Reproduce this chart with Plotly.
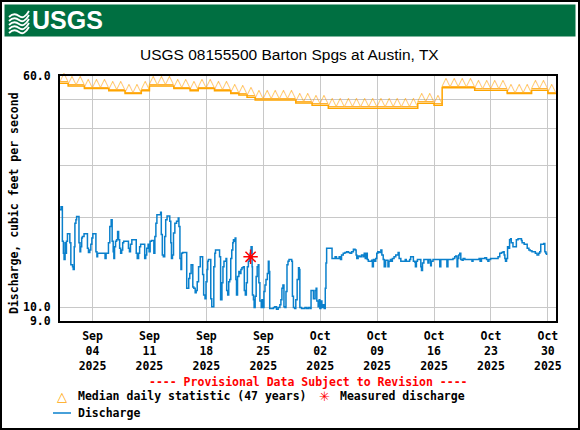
import math
import plotly.graph_objects as go
import pandas as pd

# ---- data ----
start = pd.Timestamp("2025-08-31")
end = pd.Timestamp("2025-10-31")

# median daily statistic (47 years), one value per day from Aug 31 to Oct 30
median_cfs = [56.7, 55.5, 55.5, 54.5, 54.5, 54.5, 53.5, 53.5, 52.4, 52.4,
              53.5, 55.5, 55.5, 55.5, 54.5, 54.5, 53.5, 54.5, 54.5, 53.5,
              53.5, 52.4, 51.8, 50.9, 49.8, 49.8, 49.8, 49.8, 49.8, 48.7,
              48.7, 47.8, 47.8, 46.7, 46.7, 46.7, 46.7, 46.7, 46.7, 46.7,
              46.7, 46.7, 46.7, 46.7, 48.6, 48.6, 47.8, 54.8, 54.8, 54.8,
              54.8, 53.7, 53.7, 53.7, 53.7, 52.4, 52.4, 52.4, 53.7, 53.7,
              52.4]

# discharge, hours after Aug 31 00:00 and cfs
q_hours = [0, 3, 7, 10, 12, 15, 17, 19, 22, 29, 32, 37, 39, 42, 44, 47, 49, 56, 59, 61,
           64, 66, 71, 81, 84, 88, 91, 94, 97, 106, 109, 111, 133, 136, 143, 147, 151, 154,
           157, 159, 161, 164, 167, 170, 173, 176, 179, 182, 185, 188, 202, 205, 208, 212,
           225, 228, 232, 235, 238, 250, 253, 256, 260, 263, 266, 270, 277, 280, 283, 286,
           297, 299, 302, 305, 309, 312, 316, 324, 327, 329, 332, 335, 339, 344, 349, 351,
           354, 357, 359, 362, 374, 380, 383, 387, 392, 395, 399, 402, 405, 409, 414, 421,
           424, 428, 431, 434, 436, 438, 445, 448, 454, 457, 459, 471, 474, 478, 481, 484,
           490, 492, 495, 498, 501, 504, 507, 510, 512, 514, 517, 519, 521, 524, 528, 531,
           534, 537, 541, 544, 547, 550, 553, 556, 559, 561, 564, 567, 568, 571, 573, 576,
           579, 582, 585, 587, 590, 594, 596, 598, 602, 605, 608, 612, 615, 617, 619, 630,
           634, 639, 644, 649, 652, 655, 658, 661, 664, 667, 670, 673, 676, 684, 686, 689,
           693, 696, 700, 704, 706, 708, 713, 723, 728, 733, 738, 741, 748, 753, 756, 758,
           762, 765, 767, 770, 773, 777, 780, 783, 785, 787, 803, 812, 816, 824, 828, 831,
           836, 841, 846, 851, 856, 861, 866, 871, 874, 876, 880, 885, 890, 895, 898, 901,
           905, 907, 910, 920, 922, 925, 928, 932, 935, 938, 942, 947, 950, 954, 957,
           961, 968, 971, 975, 978, 981, 986, 991, 998, 1001, 1006, 1019, 1022, 1032, 1035,
           1043, 1047, 1049, 1052, 1055, 1065, 1067, 1070, 1074, 1086, 1089, 1094, 1096,
           1101, 1121, 1124, 1142, 1145, 1160, 1165, 1168, 1172, 1174, 1177, 1180, 1183,
           1187, 1190, 1195, 1216, 1219, 1237, 1240, 1244, 1254, 1259, 1263, 1266, 1271,
           1288, 1293, 1298, 1303, 1308, 1311, 1313, 1315, 1318, 1321, 1323, 1327, 1330,
           1332, 1337, 1347, 1352, 1362, 1364, 1370, 1379, 1384, 1388, 1393, 1403, 1408,
           1413, 1416, 1419, 1428, 1431, 1434, 1436]
q_cfs = [21.3, 21.8, 16.7, 15.2, 14.5, 16.5, 15.2, 16.7, 17.7, 16.5, 13.9, 13.7, 13.4, 16.0, 19.2, 19.7, 20.2, 16.5, 15.4, 16.0,
         17.1, 17.3, 17.7, 15.8, 15.3, 15.6, 16.3, 17.1, 17.7, 15.4, 14.8, 15.2, 14.6, 15.2, 16.5, 18.7, 19.7, 16.7,
         15.4, 14.6, 16.0, 16.7, 16.9, 18.0, 16.9, 15.8, 15.2, 15.6, 16.5, 16.7, 15.8, 15.4, 16.3, 16.9,
         15.2, 14.6, 15.2, 16.0, 16.3, 14.6, 15.0, 15.8, 16.3, 15.4, 16.7, 16.8, 15.2, 17.3, 19.2, 20.5,
         20.9, 17.6, 15.0, 14.8, 17.3, 19.7, 20.3, 19.5, 16.5, 14.6, 15.0, 17.8, 19.2, 19.5, 20.0, 18.7,
         14.6, 13.4, 15.2, 15.3, 11.6, 12.5, 13.0, 13.9, 11.7, 11.6, 11.2, 11.4, 12.2, 13.7, 14.8, 12.9,
         11.0, 10.7, 12.2, 13.4, 14.3, 14.5, 10.7, 10.05, 13.7, 15.2, 15.6, 14.8, 10.6, 12.1, 13.7, 14.3,
         14.6, 11.4, 11.0, 12.2, 12.4, 14.6, 15.6, 16.5, 16.9, 16.7, 17.1, 12.4, 11.0, 12.7, 13.2, 13.0,
         13.4, 13.6, 13.7, 11.4, 11.0, 12.1, 13.7, 14.3, 14.8, 15.2, 16.0, 13.7, 11.0, 10.6, 10.0, 10.9,
         12.7, 13.7, 13.9, 12.1, 10.5, 10.0, 10.6, 10.0, 11.3, 11.9, 12.4, 13.0, 14.3, 13.2, 9.92, 10.0,
         10.05, 9.85, 10.0, 10.2, 10.6, 11.6, 11.9, 10.05, 10.0, 11.3, 13.9, 14.3, 14.5, 14.3, 10.9, 10.0,
         9.92, 10.6, 12.4, 13.6, 13.4, 10.0, 9.92, 10.0, 9.92, 10.0, 9.92, 11.4, 10.7, 11.4, 11.6, 10.5,
         10.05, 10.6, 9.92, 10.5, 10.0, 10.2, 9.92, 11.6, 14.1, 15.8, 14.6, 14.8, 14.6, 14.8, 14.5, 15.0,
         15.2, 15.3, 15.4, 15.3, 15.2, 15.4, 15.7, 15.6, 15.0, 14.6, 14.9, 14.8, 15.0, 14.8, 15.2, 14.6,
         15.2, 14.5, 14.3, 14.4, 13.7, 14.5, 14.3, 14.6, 15.2, 15.4, 15.3, 15.6, 15.0, 14.5, 13.7,
         14.4, 13.7, 14.3, 14.5, 14.3, 14.6, 14.8, 15.0, 15.3, 14.6, 14.3, 14.5, 14.3, 14.5, 14.8,
         14.3, 14.2, 13.7, 14.3, 14.5, 13.7, 13.3, 14.1, 14.5, 14.1, 14.5, 13.8, 14.3,
         14.5, 13.7, 14.5, 13.7, 14.5, 14.6, 14.8, 14.9, 13.7, 14.6, 15.0, 15.2, 14.5,
         14.4, 14.6, 14.5, 14.3, 14.5, 14.6, 14.3, 14.6, 14.7, 14.5, 14.3, 14.5, 14.6,
         14.6, 14.8, 15.2, 15.3, 15.4, 15.0, 14.6, 14.3, 14.6, 16.0, 15.8, 16.9, 17.0,
         16.5, 16.0, 16.9, 17.0, 16.8, 16.5, 16.3, 15.8, 15.6, 15.5, 15.4, 15.2, 15.0,
         15.2, 15.4, 16.3, 16.4, 15.4, 15.2, 15.0]

meas_time = ["2025-09-23 10:30"]
meas_cfs = [14.8]

tick_dates = pd.date_range("2025-09-04", "2025-10-30", freq="7D")
tick_text = [d.strftime("%b<br>%d<br>%Y") for d in tick_dates]
y_tickvals = [9, 10, 60]
y_ticktext = ["9.0", "10.0", "60.0"]
y_minor = [20, 30, 40, 50]

# ---- layout helpers (pixel -> paper) ----
W, H = 580, 430
L, R, T, B = 60, 24, 76, 109
PW, PH = W - L - R, H - T - B


def fx(px):
    return (px - L) / PW


def fy(py):
    return (H - B - py) / PH


MONO = "DejaVu Sans Mono"
SANS = "Liberation Sans, Arial, sans-serif"
ORANGE = "#FFA500"
BLUE = "#0a80cc"
GRID = "#c8c8c8"

days = pd.date_range(start, periods=len(median_cfs), freq="D")
noon = days + pd.Timedelta(hours=12)

fig = go.Figure()

# median step line and triangles
fig.add_trace(go.Scatter(
    x=list(days) + [end], y=median_cfs + [median_cfs[-1]],
    mode="lines", line=dict(color=ORANGE, width=1.5, shape="hv"),
    hoverinfo="skip", showlegend=False))
fig.add_trace(go.Scatter(
    x=noon, y=median_cfs, mode="text", text=["△"] * len(median_cfs),
    textposition="top center", cliponaxis=False,
    textfont=dict(family="DejaVu Sans", size=11.5, color=ORANGE),
    showlegend=False))

# discharge
fig.add_trace(go.Scatter(
    x=start + pd.to_timedelta(q_hours, unit="h"), y=q_cfs, mode="lines",
    line=dict(color=BLUE, width=1.5, shape="hv"), showlegend=False))

# measured discharge
fig.add_trace(go.Scatter(
    x=pd.to_datetime(meas_time), y=meas_cfs, mode="markers",
    marker=dict(symbol="asterisk-open", size=12, color="red",
                line=dict(color="red", width=1.5)),
    showlegend=False))

axis_font = dict(family=MONO, size=11.5, color="black", weight="bold")

fig.update_xaxes(
    type="date", range=[start, end], tickvals=tick_dates, ticktext=tick_text,
    showgrid=True, gridcolor=GRID, gridwidth=1.3, zeroline=False, automargin=False,
    showline=True, mirror=True, linecolor="black", linewidth=2,
    ticks="outside", ticklen=3, tickcolor="rgba(0,0,0,0)", tickfont=axis_font)
fig.update_yaxes(
    type="log", range=[math.log10(9), math.log10(60)],
    tickvals=y_tickvals, ticktext=y_ticktext, automargin=False,
    showgrid=True, gridcolor=GRID, gridwidth=1.3, zeroline=False,
    minor=dict(tickvals=y_minor, showgrid=True, gridcolor=GRID, gridwidth=1.3, ticks=""),
    showline=True, mirror=True, linecolor="black", linewidth=2,
    ticks="outside", ticklen=5, tickcolor="rgba(0,0,0,0)", tickfont=axis_font)

shapes = [
    # header band
    dict(type="rect", xref="paper", yref="paper", x0=fx(4.5), x1=fx(575.5),
         y0=fy(36.5), y1=fy(4.5), fillcolor="#006F41", line=dict(width=0), layer="below"),
    # outer frame
    dict(type="rect", xref="paper", yref="paper", x0=fx(1), x1=fx(579),
         y0=fy(429), y1=fy(1), line=dict(color="black", width=2)),
    # legend line for discharge
    dict(type="line", xref="paper", yref="paper", x0=fx(53), x1=fx(71),
         y0=fy(413), y1=fy(413), line=dict(color=BLUE, width=1.5)),
]
# wave mark of the logo
for i in range(5):
    y0 = 15 + 4 * i
    path = "M {:.4f},{:.4f} Q {:.4f},{:.4f} {:.4f},{:.4f} T {:.4f},{:.4f}".format(
        fx(9), fy(y0 + 2), fx(14), fy(y0 - 3), fx(19), fy(y0 + 1), fx(29), fy(y0 - 4))
    shapes.append(dict(type="path", xref="paper", yref="paper", path=path,
                       line=dict(color="white", width=1.8)))

annotations = [
    dict(x=fx(30), y=fy(20.5), text="<b>USGS</b>", xanchor="left", yanchor="middle",
         font=dict(family=SANS, size=25, color="white")),
    dict(x=fx(289), y=fy(54), text="USGS 08155500 Barton Spgs at Austin, TX",
         xanchor="center", yanchor="middle", font=dict(family=SANS, size=15.5, color="black")),
    dict(x=fx(14), y=fy(203), text="Discharge, cubic feet per second", textangle=-90,
         xanchor="center", yanchor="middle", font=axis_font),
    dict(x=fx(308), y=fy(382), text="---- Provisional Data Subject to Revision ----",
         xanchor="center", yanchor="middle", font=dict(family=MONO, size=11.5, color="red", weight="bold")),
    dict(x=fx(62), y=fy(396), text="△", xanchor="center", yanchor="middle",
         font=dict(family="DejaVu Sans", size=13, color=ORANGE)),
    dict(x=fx(76), y=fy(396), text="Median daily statistic (47 years)", xanchor="left",
         yanchor="middle", font=axis_font),
    dict(x=fx(324), y=fy(396), text="✳", xanchor="center", yanchor="middle",
         font=dict(family="DejaVu Sans", size=13, color="red")),
    dict(x=fx(338), y=fy(396), text="Measured discharge", xanchor="left",
         yanchor="middle", font=axis_font),
    dict(x=fx(76), y=fy(413), text="Discharge", xanchor="left", yanchor="middle",
         font=axis_font),
]
for a in annotations:
    a.update(xref="paper", yref="paper", showarrow=False)

fig.update_layout(
    width=W, height=H, margin=dict(l=L, r=R, t=T, b=B),
    paper_bgcolor="white", plot_bgcolor="white", showlegend=False,
    shapes=shapes, annotations=annotations)

# the page's default body margin would push the 580x430 figure off the window
fig.write_html("out.html", config={"displayModeBar": False},
               post_script="document.body.style.margin='0';document.body.style.overflow='hidden';")
